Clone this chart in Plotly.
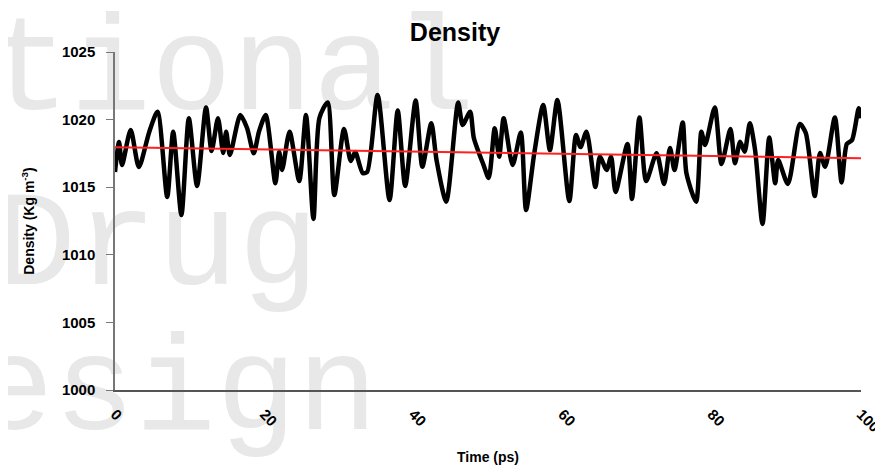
import plotly.graph_objects as go

time_ps = [0, 0.54, 0.94, 2.1, 3.2, 4.6, 5.7, 7.0, 7.8, 8.9, 9.9, 11.0, 12.2, 12.95, 13.8, 14.5, 14.9, 15.4,
           16.8, 17.7, 18.6, 19.3, 20.2, 21.5, 22.0, 22.4, 23.4, 24.7, 25.6, 26.6, 27.4, 28.5, 29.4, 30.7,
           31.6, 32.2, 33.2, 33.8, 35.2, 36.8, 37.9, 38.9, 40.3, 41.2, 42.4, 43.1, 44.4, 46.0, 46.6, 47.6,
           48.1, 49.4, 50.1, 50.9, 51.5, 52.1, 53.3, 54.4, 55.1, 56.2, 57.4, 58.3, 59.3, 60.9, 61.8, 62.4,
           63.2, 64.4, 65.0, 65.9, 66.5, 67.1, 68.7, 69.3, 70.3, 71.2, 72.6, 73.6, 74.4, 75.0, 76.1, 76.6,
           77.9, 78.6, 79.1, 80.4, 81.3, 82.5, 83.1, 83.8, 84.4, 85.1, 85.8, 86.8, 87.7, 88.5, 88.9, 90.2,
           91.8, 92.6, 93.8, 94.5, 95.2, 96.5, 97.4, 98.1, 98.8, 99.7, 100]

density = [1016.12, 1018.34, 1016.64, 1019.23, 1016.49, 1019.11, 1020.58, 1014.28, 1019.11, 1012.94, 1020.10,
           1015.09, 1020.90, 1017.68, 1020.10, 1017.53, 1019.11, 1017.38, 1020.34, 1019.38, 1017.51, 1019.11,
           1020.34, 1015.29, 1017.63, 1016.27, 1019.11, 1015.46, 1020.34, 1012.65, 1020.12, 1021.27, 1014.42,
           1019.31, 1016.94, 1017.60, 1016.05, 1016.12, 1021.82, 1014.05, 1020.67, 1015.09, 1021.41, 1016.52,
           1019.73, 1017.01, 1013.93, 1021.27, 1019.60, 1020.58, 1018.64, 1016.64, 1015.68, 1019.36, 1017.26,
           1020.10, 1016.64, 1019.05, 1013.31, 1017.51, 1021.08, 1017.75, 1021.45, 1013.98, 1018.86, 1017.97,
           1019.11, 1015.02, 1017.26, 1016.27, 1017.26, 1014.65, 1018.20, 1014.13, 1020.16, 1015.46, 1017.51,
           1015.24, 1017.90, 1016.27, 1019.79, 1016.03, 1013.93, 1019.11, 1018.12, 1020.90, 1016.72, 1019.31,
           1016.77, 1018.37, 1017.63, 1019.73, 1017.75, 1012.28, 1018.68, 1015.29, 1017.01, 1015.24, 1019.67,
           1019.01, 1014.35, 1017.53, 1016.52, 1020.16, 1015.35, 1018.20, 1018.49, 1020.84, 1020.10]

trend_time = [0, 100]
trend_density = [1017.95, 1017.15]

x_ticks = [0, 20, 40, 60, 80, 100]
y_ticks = [1000, 1005, 1010, 1015, 1020, 1025]

watermark_lines = ["tional", "Drug", "esign"]

fig = go.Figure()
fig.add_trace(go.Scatter(x=time_ps, y=density, mode="lines",
                         line=dict(color="black", width=4.5, shape="spline", smoothing=0.7),
                         showlegend=False))
fig.add_trace(go.Scatter(x=trend_time, y=trend_density, mode="lines",
                         line=dict(color="#ff2020", width=2), showlegend=False))

# figure sits 8px in from the page edge (body margin), so size/margins are offset accordingly
W, H = 875, 457
L, R, T, B = 107, 22, 44, 75
pw, ph = W - L - R, H - T - B

def px_x(x):
    return (x - L) / pw

def px_y(y):
    return 1 - (y - T) / ph

# faint background watermark text (drawn below the data)
wm_specs = [(watermark_lines[0], -22, 42), (watermark_lines[1], -16, 217), (watermark_lines[2], -38, 362)]
for txt, x0, yc in wm_specs:
    fig.add_shape(type="rect", xref="paper", yref="paper",
                  x0=px_x(x0), x1=px_x(x0 + 10), y0=px_y(yc + 5), y1=px_y(yc - 5),
                  line=dict(width=0), fillcolor="rgba(0,0,0,0)", layer="below",
                  label=dict(text=txt, textposition="middle left", padding=0,
                             font=dict(family="Liberation Mono", size=135, color="#e8e8e8")))

fig.update_layout(
    width=W, height=H,
    margin=dict(l=L, r=R, t=T, b=B, autoexpand=False),
    paper_bgcolor="white", plot_bgcolor="rgba(0,0,0,0)",
    title=dict(text="<b>Density</b>", x=447 / W, xanchor="center", y=1 - 24 / H, yanchor="middle",
               font=dict(family="Liberation Sans", size=25, color="black")),
    font=dict(family="Liberation Sans", color="black"),
)
fig.update_xaxes(range=[0, 100], tickvals=x_ticks, ticktext=[str(v) for v in x_ticks],
                 tickangle=45, showgrid=False, zeroline=False, automargin=False,
                 ticklabeloverflow="allow", ticklabelstandoff=8,
                 showline=True, linecolor="#555555", linewidth=1.5, ticks="",
                 tickfont=dict(size=15, family="Liberation Sans", weight="bold"),
                 title=dict(text="<b>Time (ps)</b>", font=dict(size=14), standoff=24))
fig.update_yaxes(range=[1000, 1025], tickvals=y_ticks, showgrid=False, zeroline=False, automargin=False,
                 showline=True, linecolor="#777777", linewidth=1.5, ticks="outside",
                 ticklen=7, tickcolor="#777777", ticklabelstandoff=8,
                 tickfont=dict(size=15, family="Liberation Sans", weight="bold"),
                 title=dict(text="<b>Density (Kg m<sup>-3</sup>)</b>", font=dict(size=14), standoff=24))

fig.write_html("out.html")
